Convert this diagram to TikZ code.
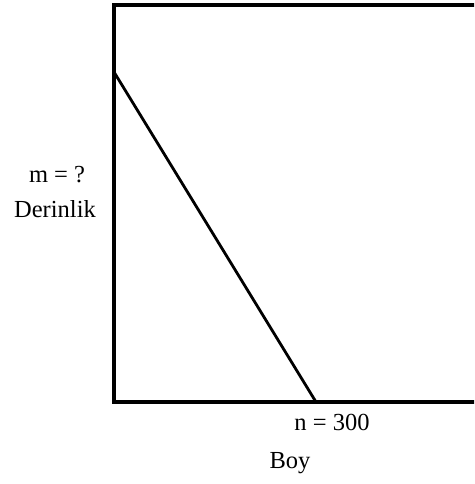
\documentclass[tikz,border=0pt]{standalone}
\usepackage{fontspec}
\setmainfont{Liberation Serif}
\begin{document}
\begin{tikzpicture}[x=1pt,y=-1pt,
  lbl/.style={anchor=base,inner sep=0pt,font=\fontsize{24.5}{28}\selectfont},
  frame/.style={line width=4pt,line cap=rect},
  diag/.style={line width=2.8pt}]
\useasboundingbox (0,0) rectangle (474,484);
\clip (0,0) rectangle (474,484);
\coordinate (tr) at (480,5);
\coordinate (tl) at (114,5);
\coordinate (bl) at (114,402);
\coordinate (br) at (480,402);
\draw[frame] (tr) -- (tl) -- (bl) -- (br);
\coordinate (a) at (114,72);
\coordinate (b) at (316,402);
\draw[diag] (a) -- (b);
\node[lbl] (m) at (57,182) {m = ?};
\node[lbl] (d) at (55,217) {Derinlik};
\node[lbl] (n) at (332,430) {n = 300};
\node[lbl] (boy) at (290,468) {Boy};
\end{tikzpicture}
\end{document}
